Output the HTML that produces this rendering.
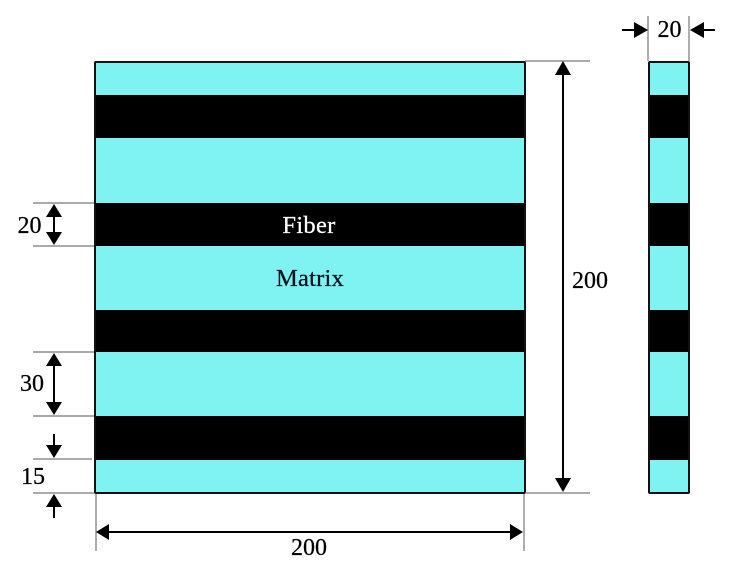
<!DOCTYPE html>
<html>
<head>
<meta charset="utf-8">
<style>
html,body{margin:0;padding:0;background:#fff;width:736px;height:568px;overflow:hidden}
svg{display:block;filter:blur(0.35px)}
text{font-family:"Liberation Serif",serif;font-size:24px;fill:#000;text-anchor:middle;stroke:#000;stroke-width:0.25}
</style>
</head>
<body>
<svg width="736" height="568" viewBox="0 0 736 568" xmlns="http://www.w3.org/2000/svg">
<!-- main plate -->
<rect x="95" y="62" width="430" height="431" fill="#7ff3f1"/>
<rect x="95" y="95" width="430" height="43" fill="#000"/>
<rect x="95" y="203" width="430" height="43" fill="#000"/>
<rect x="95" y="310" width="430" height="42" fill="#000"/>
<rect x="95" y="416" width="430" height="44" fill="#000"/>
<rect x="95" y="62" width="430" height="431" fill="none" stroke="#111" stroke-width="2" rx="1"/>
<!-- side plate -->
<rect x="649" y="62" width="40" height="431" fill="#7ff3f1"/>
<rect x="649" y="95" width="40" height="43" fill="#000"/>
<rect x="649" y="203" width="40" height="43" fill="#000"/>
<rect x="649" y="310" width="40" height="42" fill="#000"/>
<rect x="649" y="416" width="40" height="44" fill="#000"/>
<rect x="649" y="62" width="40" height="431" fill="none" stroke="#111" stroke-width="2" rx="1"/>
<!-- extension lines -->
<g stroke="#777" stroke-width="1.2" fill="none">
<line x1="33" y1="203" x2="94" y2="203"/>
<line x1="33" y1="246" x2="94" y2="246"/>
<line x1="33" y1="352" x2="94" y2="352"/>
<line x1="33" y1="416" x2="94" y2="416"/>
<line x1="33" y1="459" x2="92" y2="459"/>
<line x1="33" y1="493" x2="94" y2="493"/>
<line x1="525" y1="61" x2="590" y2="61"/>
<line x1="525" y1="493" x2="590" y2="493"/>
<line x1="96" y1="494" x2="96" y2="551"/>
<line x1="524" y1="494" x2="524" y2="551"/>
<line x1="648" y1="16" x2="648" y2="61"/>
<line x1="689" y1="16" x2="689" y2="61"/>
</g>
<!-- dimension lines -->
<g stroke="#000" stroke-width="2" fill="none">
<line x1="54" y1="215" x2="54" y2="234"/>
<line x1="54" y1="364" x2="54" y2="404"/>
<line x1="54" y1="434" x2="54" y2="448"/>
<line x1="54" y1="505" x2="54" y2="518"/>
<line x1="563" y1="72" x2="563" y2="482"/>
<line x1="107" y1="532" x2="513" y2="532"/>
<line x1="622" y1="30" x2="636" y2="30"/>
<line x1="701" y1="30" x2="715" y2="30"/>
</g>
<!-- arrowheads -->
<g fill="#000">
<polygon points="54,204 46,217 62,217"/>
<polygon points="54,245 46,232 62,232"/>
<polygon points="54,353 46,366 62,366"/>
<polygon points="54,415 46,402 62,402"/>
<polygon points="54,458 46,445 62,445"/>
<polygon points="54,494 46,507 62,507"/>
<polygon points="563,61 555,75 571,75"/>
<polygon points="563,492 555,478 571,478"/>
<polygon points="96,532 109,524 109,540"/>
<polygon points="523,532 510,524 510,540"/>
<polygon points="648,30 634,22 634,38"/>
<polygon points="690,30 704,22 704,38"/>
</g>
<!-- labels -->
<text x="29.5" y="233">20</text>
<text x="32" y="391">30</text>
<text x="33" y="484">15</text>
<text x="590" y="288">200</text>
<text x="309" y="555">200</text>
<text x="669.5" y="37">20</text>
<text x="309" y="233" style="fill:#fff;stroke:#fff;font-size:24.5px;letter-spacing:.3px">Fiber</text>
<text x="310" y="286" style="fill:#06121c;stroke:#06121c;font-size:24.5px;letter-spacing:.2px">Matrix</text>
</svg>
</body>
</html>
